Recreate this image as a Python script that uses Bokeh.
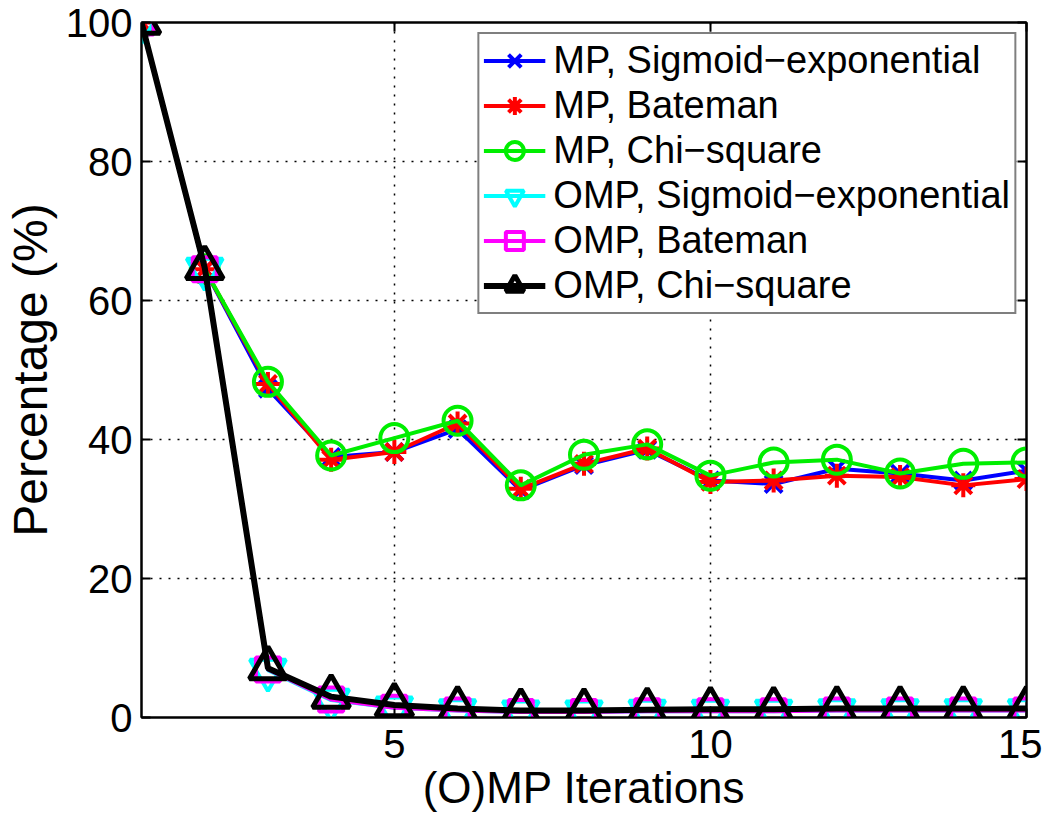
from bokeh.plotting import figure
from bokeh.models import FixedTicker, LinearAxis, Range1d, CustomJSTickFormatter
from bokeh.embed import file_html
from bokeh.resources import INLINE

iterations = list(range(1, 16))
mp_sigmoid = [100, 64.5, 47.3, 37.5, 38.2, 41.5, 32.7, 36.3, 38.5, 34.1, 33.6, 35.8, 35.1, 34.1, 35.5]
mp_bateman = [100, 64.5, 48.0, 37.1, 38.2, 42.3, 32.9, 36.5, 38.7, 33.9, 34.1, 34.8, 34.6, 33.4, 34.3]
mp_chi = [100, 64.5, 48.3, 37.7, 40.2, 42.7, 33.4, 37.8, 39.3, 34.8, 36.7, 37.1, 35.1, 36.5, 36.7]
omp_sigmoid = [100, 64.5, 6.8, 2.5, 1.4, 1.0, 0.8, 0.8, 0.9, 0.9, 0.9, 1.0, 1.0, 1.0, 1.0]
omp_bateman = [100, 64.5, 6.9, 2.6, 1.4, 1.0, 0.8, 0.8, 0.9, 0.9, 0.9, 1.0, 1.0, 1.0, 1.0]
omp_chi = [100, 64.7, 7.1, 3.0, 1.8, 1.3, 1.0, 1.0, 1.1, 1.2, 1.2, 1.3, 1.3, 1.3, 1.3]

x_ticks = [5, 10, 15]
y_ticks = [0, 20, 40, 60, 80, 100]

FONT = "Liberation Sans"
W, H = 1042, 814

p = figure(width=W, height=H, x_range=Range1d(1, 15), y_range=Range1d(0, 100),
           output_backend="svg", toolbar_location=None,
           min_border_left=136, min_border_right=W - 1026, min_border_top=22,
           min_border_bottom=H - 717)

p.outline_line_color = "black"
p.outline_line_width = 2

for ax in [p.xaxis[0], p.yaxis[0]]:
    ax.axis_line_width = 2
    ax.axis_line_color = "black"
    ax.major_tick_in = 9
    ax.major_tick_out = 0
    ax.major_tick_line_width = 2
    ax.minor_tick_line_color = None
    ax.major_label_text_font = FONT
    ax.major_label_text_font_size = "40px"
    ax.major_label_text_color = "black"
    ax.axis_label_text_font = FONT
    ax.axis_label_text_font_style = "normal"
    ax.axis_label_text_color = "black"

p.xaxis.ticker = FixedTicker(ticks=x_ticks)
p.yaxis.ticker = FixedTicker(ticks=y_ticks)
p.xaxis.major_label_standoff = 12
p.yaxis.major_label_standoff = 9
p.xaxis.axis_label = "(O)MP Iterations"
p.xaxis.axis_label_text_font_size = "44px"
p.xaxis.axis_label_standoff = 2
p.yaxis.axis_label = "Percentage (%)"
p.yaxis.axis_label_text_font_size = "48px"
p.yaxis.axis_label_standoff = 6

empty = CustomJSTickFormatter(code="return ''")
for loc, ticks in [("right", y_ticks), ("above", x_ticks)]:
    ax = LinearAxis(ticker=FixedTicker(ticks=ticks), formatter=empty,
                    axis_line_width=2, axis_line_color="black",
                    major_tick_in=9, major_tick_out=0, major_tick_line_width=2,
                    minor_tick_line_color=None, major_label_standoff=0,
                    major_label_text_font_size="1px")
    p.add_layout(ax, loc)

for g in [p.xgrid[0], p.ygrid[0]]:
    g.grid_line_color = "black"
    g.grid_line_dash = "2 7"
    g.grid_line_width = 1.5
p.xgrid.ticker = FixedTicker(ticks=x_ticks)
p.ygrid.ticker = FixedTicker(ticks=y_ticks)

series = [
    ("MP, Sigmoid\u2212exponential", mp_sigmoid, "#0000ff", "x", 24, 4, 4),
    ("MP, Bateman", mp_bateman, "#ff0000", "asterisk", 24, 4, 4),
    ("MP, Chi\u2212square", mp_chi, "#00ee00", "circle", 28, 4, 4),
    ("OMP, Sigmoid\u2212exponential", omp_sigmoid, "#00ffff", "inverted_triangle", 36, 4, 4),
    ("OMP, Bateman", omp_bateman, "#ff00ff", "square", 24, 4, 4),
    ("OMP, Chi\u2212square", omp_chi, "#000000", "triangle", 37, 5, 6),
]

for name, ys, color, marker, size, lw, line_w in series:
    p.line(iterations, ys, line_color=color, line_width=line_w, legend_label=name)
    p.scatter(iterations, ys, marker=marker, size=size, line_color=color,
              line_width=lw, fill_color=None, legend_label=name)

lg = p.legend[0]
lg.location = "top_right"
lg.margin = 10
lg.padding = 4
lg.spacing = 0
lg.label_height = 45
lg.glyph_height = 45
lg.glyph_width = 62
lg.label_standoff = 8
lg.label_text_font = FONT
lg.label_text_font_size = "38px"
lg.label_text_color = "black"
lg.border_line_color = "black"
lg.border_line_width = 2
lg.background_fill_color = "white"
lg.background_fill_alpha = 1

open("out.html", "w").write(file_html(p, INLINE))
